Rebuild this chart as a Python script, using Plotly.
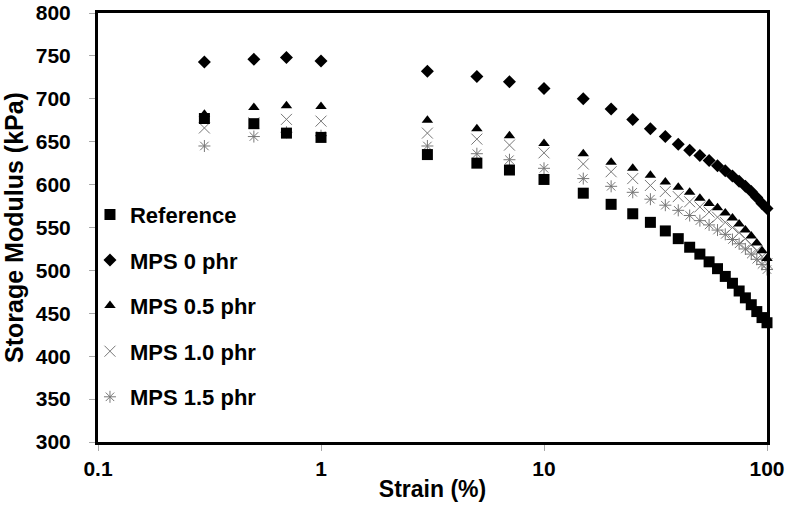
import plotly.graph_objects as go

strain = [0.3, 0.5, 0.7, 1, 3, 5, 7, 10, 15, 20, 25, 30, 35, 40, 45, 50,
          55, 60, 65, 70, 75, 80, 85, 90, 95, 100]

reference = [677, 671, 660, 655, 635, 625, 617, 606, 590, 577, 566, 556, 546,
             537, 527, 519, 510, 502, 493, 485, 476, 468, 460, 452, 445, 439]
mps_0 = [743, 746, 748, 744, 732, 726, 720, 712, 700, 688, 676, 665, 656,
         647, 640, 634, 628, 622, 616, 610, 604, 598, 592, 585, 578, 572]
mps_05 = [682, 690, 692, 691, 675, 665, 657, 648, 636, 626, 619, 611, 603,
          597, 591, 584, 578, 573, 567, 561, 554, 547, 540, 532, 523, 514]
mps_10 = [666, 672, 676, 674, 660, 653, 646, 637, 624, 615, 607, 599, 592,
          586, 580, 574, 568, 562, 556, 550, 544, 537, 530, 523, 516, 508]
mps_15 = [645, 656, 661, 657, 645, 636, 629, 619, 607, 598, 591, 583, 576,
          570, 564, 558, 553, 547, 542, 536, 531, 525, 519, 513, 507, 501]

x_ticks = [0.1, 1, 10, 100]
x_tick_labels = ["0.1", "1", "10", "100"]
y_ticks = list(range(300, 801, 50))

FONT = "Liberation Sans, Arial, sans-serif"
GRAY = "#777777"

fig = go.Figure()

# draw order: x-type markers first, filled markers above
fig.add_trace(go.Scatter(
    x=strain, y=mps_15, mode="markers", name="MPS 1.5 phr",
    legendgroup="e", legendrank=5,
    marker=dict(symbol="asterisk-open", size=10, color=GRAY,
                line=dict(width=1, color=GRAY)),
    cliponaxis=False))
fig.add_trace(go.Scatter(
    x=strain, y=mps_10, mode="markers", name="MPS 1.0 phr",
    legendgroup="d", legendrank=4,
    marker=dict(symbol="x-thin-open", size=11, color=GRAY,
                line=dict(width=1, color=GRAY)),
    cliponaxis=False))
fig.add_trace(go.Scatter(
    x=strain, y=mps_05, mode="markers", name="MPS 0.5 phr",
    legendgroup="c", legendrank=3,
    marker=dict(symbol="triangle-up", size=10, color="black"),
    cliponaxis=False))
fig.add_trace(go.Scatter(
    x=strain, y=mps_0, mode="markers", name="MPS 0 phr",
    legendgroup="b", legendrank=2,
    marker=dict(symbol="diamond", size=10, color="black"),
    cliponaxis=False))
fig.add_trace(go.Scatter(
    x=strain, y=reference, mode="markers", name="Reference",
    legendgroup="a", legendrank=1,
    marker=dict(symbol="square", size=11, color="black"),
    cliponaxis=False))

fig.update_layout(
    width=788, height=510,
    margin=dict(l=98, r=21, t=13, b=68, autoexpand=False),
    paper_bgcolor="white", plot_bgcolor="white",
    font=dict(family=FONT, size=21, color="black"),
    showlegend=True,
    legend=dict(x=-0.012, y=0.579, xanchor="left", yanchor="top",
                bgcolor="rgba(0,0,0,0)", traceorder="grouped",
                tracegroupgap=14, itemwidth=30,
                font=dict(family=FONT, size=22, color="black")),
)

fig.update_xaxes(
    type="log", range=[-1, 2], automargin=False,
    tickvals=x_ticks, ticktext=["<b>%s</b>" % t for t in x_tick_labels],
    ticks="outside", ticklen=6, tickcolor="#aaaaaa", tickwidth=1,
    showline=True, linecolor="black", linewidth=3, mirror=True,
    showgrid=False, zeroline=False,
    title=dict(text="<b>Strain (%)</b>", standoff=2,
               font=dict(family=FONT, size=23)),
    tickfont=dict(family=FONT, size=21),
)
fig.update_yaxes(
    range=[300, 800], automargin=False,
    tickvals=y_ticks, ticktext=["<b>%d</b>" % v for v in y_ticks],
    ticks="outside", ticklen=6, tickcolor="#aaaaaa", tickwidth=1,
    ticklabelstandoff=14,
    showline=True, linecolor="black", linewidth=3, mirror=True,
    showgrid=False, zeroline=False,
    title=dict(text="<b>Storage Modulus (kPa)</b>", standoff=6,
               font=dict(family=FONT, size=25)),
    tickfont=dict(family=FONT, size=21),
)

# bold legend text
for tr in fig.data:
    tr.name = "<b>%s</b>" % tr.name

fig.write_html(
    "out.html",
    config={"displayModeBar": False},
    post_script="document.body.style.margin='0px';"
                "document.body.style.padding='0px';"
                "document.body.style.overflow='hidden';",
)
